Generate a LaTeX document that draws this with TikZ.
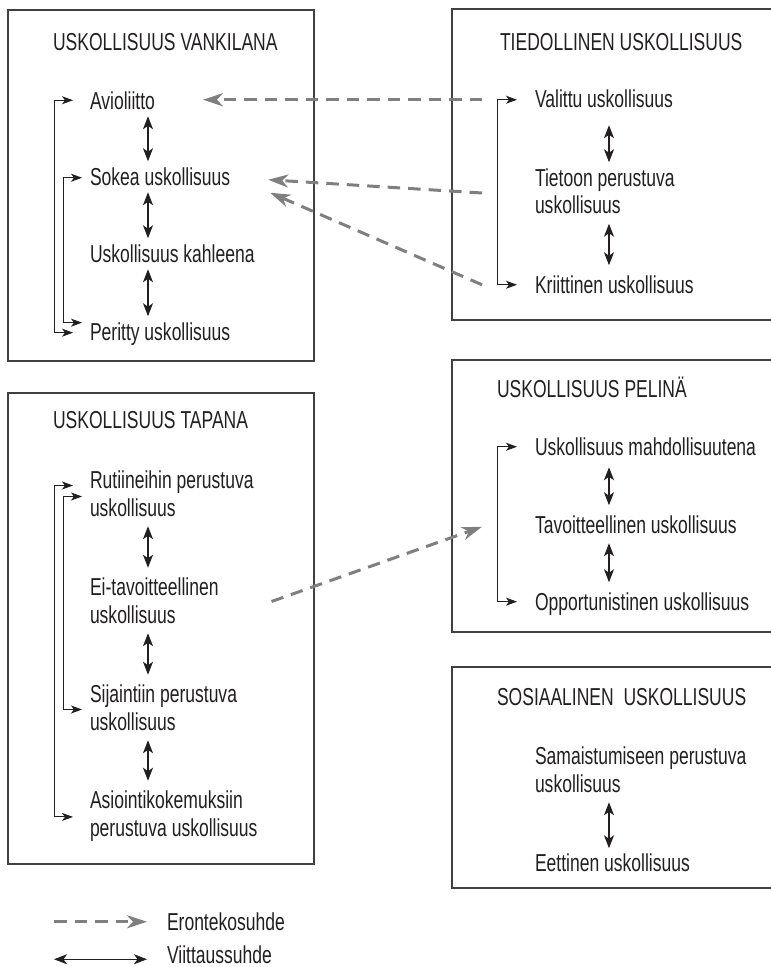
\documentclass[tikz,border=0pt]{standalone}
\usepackage{fontspec}
\setmainfont{Liberation Sans}[FakeStretch=0.715]
\usetikzlibrary{arrows.meta, calc}
\definecolor{boxgray}{HTML}{404040}
\definecolor{erongray}{HTML}{7F7F7F}
\definecolor{txtblack}{HTML}{231F20}

\begin{document}
\begin{tikzpicture}[
    x=1pt, y=-1pt,
    every node/.style={font=\fontsize{24.5}{27.5}\selectfont, text=txtblack, inner sep=0pt, outer sep=0pt, anchor=base west, align=left},
    grp/.style={draw=boxgray, line width=1.1pt},
    viit/.style={{Stealth[length=13pt,width=10pt,inset=3.5pt]}-{Stealth[length=13pt,width=10pt,inset=3.5pt]}, txtblack, line width=1.1pt, shorten <=10pt, shorten >=10pt},
    brk/.style={{Stealth[length=11pt,width=8pt,inset=3pt]}-{Stealth[length=11pt,width=8pt,inset=3pt]}, txtblack, line width=0.9pt},
    eron/.style={-{Stealth[length=20pt,width=13pt,inset=6pt]}, erongray, line width=3pt, dash pattern=on 12.5pt off 8pt},
  ]
  \useasboundingbox (0,0) rectangle (771,967);
  \coordinate (colL) at (148,0);
  \coordinate (colR) at (609,0);

  % USKOLLISUUS VANKILANA
  \draw[grp] (8,10) rectangle (314,361);
  \node (t1) at (53,50) {USKOLLISUUS VANKILANA};
  \node (avio) at (90,109) {Avioliitto};
  \node (sokea) at (90,185) {Sokea uskollisuus};
  \node (kahl) at (90,262) {Uskollisuus kahleena};
  \node (per) at (90,340) {Peritty uskollisuus};

  % TIEDOLLINEN USKOLLISUUS
  \draw[grp] (452,9) rectangle (775,320);
  \node (t2) at (500,50) {TIEDOLLINEN USKOLLISUUS};
  \node (val) at (535,107) {Valittu uskollisuus};
  \node (tiet) at (535,213.5) {Tietoon perustuva\\uskollisuus};
  \node (krit) at (535,293) {Kriittinen uskollisuus};

  % USKOLLISUUS TAPANA
  \draw[grp] (8,393) rectangle (314,864);
  \node (t3) at (53,428) {USKOLLISUUS TAPANA};
  \node (rut) at (90,516) {Rutiineihin perustuva\\uskollisuus};
  \node (eitav) at (90,623) {Ei-tavoitteellinen\\uskollisuus};
  \node (sij) at (90,730) {Sijaintiin perustuva\\uskollisuus};
  \node (asi) at (90,836) {Asiointikokemuksiin\\perustuva uskollisuus};

  % USKOLLISUUS PELINÄ
  \draw[grp] (452,360) rectangle (775,632);
  \node (t4) at (497,397) {USKOLLISUUS PELINÄ};
  \node (mahd) at (535,455) {Uskollisuus mahdollisuutena};
  \node (tav) at (535,533) {Tavoitteellinen uskollisuus};
  \node (opp) at (535,610) {Opportunistinen uskollisuus};

  % SOSIAALINEN USKOLLISUUS
  \draw[grp] (452,667) rectangle (775,888);
  \node (t5) at (497,705) {SOSIAALINEN\ \ USKOLLISUUS};
  \node (sam) at (535,792) {Samaistumiseen perustuva\\uskollisuus};
  \node (eet) at (535,871) {Eettinen uskollisuus};

  % viittaussuhteet
  \draw[viit, shorten <=7pt, shorten >=6pt] (avio.south -| colL) -- (sokea.north -| colL);
  \draw[viit, shorten <=7pt, shorten >=6pt] (sokea.south -| colL) -- (kahl.north -| colL);
  \draw[viit, shorten <=7pt, shorten >=6pt] (kahl.south -| colL) -- (per.north -| colL);
  \draw[viit, shorten <=18pt, shorten >=6pt] (val.south -| colR) -- (tiet.north -| colR);
  \draw[viit] (tiet.south -| colR) -- (krit.north -| colR);
  \draw[viit] (rut.south -| colL) -- (eitav.north -| colL);
  \draw[viit] (eitav.south -| colL) -- (sij.north -| colL);
  \draw[viit] (sij.south -| colL) -- (asi.north -| colL);
  \draw[viit, shorten <=12pt] (mahd.south -| colR) -- (tav.north -| colR);
  \draw[viit] (tav.south -| colR) -- (opp.north -| colR);
  \draw[viit, shorten >=5pt] (sam.south -| colR) -- (eet.north -| colR);

  % sivukaaret
  \draw[brk] ($(avio.west)+(-17,0)$) -| ($(per.west)+(-36,-1)$) -- ($(per.west)+(-17,-1)$);
  \draw[brk] ($(sokea.west)+(-8,1.5)$) -| ($(per.west)+(-27,-11)$) -- ($(per.west)+(-8,-11)$);
  \draw[brk] ($(val.west)+(-18,1.5)$) -| ($(krit.west)+(-38,0.5)$) -- ($(krit.west)+(-18,0.5)$);
  \draw[brk] ($(rut.west)+(-17,-8)$) -| ($(asi.west)+(-36,1)$) -- ($(asi.west)+(-17,1)$);
  \draw[brk] ($(rut.west)+(-8,3)$) -| ($(sij.west)+(-27,2)$) -- ($(sij.west)+(-8,2)$);
  \draw[brk] ($(mahd.west)+(-18,0.5)$) -| ($(opp.west)+(-38,-2)$) -- ($(opp.west)+(-18,-2)$);

  % erontekosuhteet
  \draw[eron] ($(val.west)+(-53,1.5)$) -- ($(val.west -| avio.east)+(48,1.5)$);
  \draw[eron] ($(tiet.west)+(-53,2)$) -- ($(sokea.east)+(38,3.5)$);
  \draw[eron] ($(krit.west)+(-53,0.5)$) -- ($(sokea.east)+(40,16.5)$);
  \draw[eron] ($(eitav.east)+(53,1)$) -- ($(tav.west)+(-53,2.5)$);

  % selite
  \node (eron) at (167,930) {Erontekosuhde};
  \node (viitl) at (167,963) {Viittaussuhde};
  \draw[eron] ($(eron.west)+(-113,0.5)$) -- ($(eron.west)+(-20,0.5)$);
  \draw[viit, shorten <=0pt, shorten >=0pt] ($(viitl.west)+(-113,5)$) -- ($(viitl.west)+(-20,5)$);
\end{tikzpicture}
\end{document}
